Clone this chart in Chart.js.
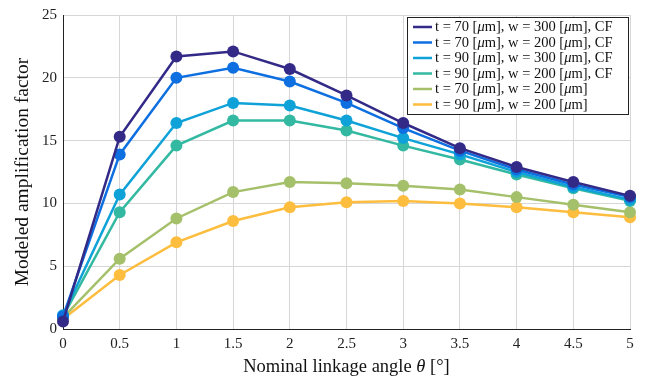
<!DOCTYPE html>
<html><head><meta charset="utf-8">
<script src="https://cdn.jsdelivr.net/npm/chart.js@4"></script>
<style>html,body{margin:0;padding:0;background:#fff;}#wrap{width:652px;height:383px;}</style>
</head><body><div id="wrap"><canvas id="c" width="652" height="383"></canvas></div>
<script>
const angles = [0, 0.5, 1, 1.5, 2, 2.5, 3, 3.5, 4, 4.5, 5];
const labels = [
  "t = 70 [μm], w = 300 [μm], CF",
  "t = 70 [μm], w = 200 [μm], CF",
  "t = 90 [μm], w = 300 [μm], CF",
  "t = 90 [μm], w = 200 [μm], CF",
  "t = 70 [μm], w = 200 [μm]",
  "t = 90 [μm], w = 200 [μm]"
];
const s1 = [0.6, 15.3, 21.7, 22.1, 20.7, 18.6, 16.4, 14.4, 12.9, 11.7, 10.6];
const s2 = [1.0, 13.9, 20.0, 20.8, 19.7, 18.0, 16.0, 14.2, 12.7, 11.5, 10.5];
const s3 = [1.1, 10.7, 16.4, 18.0, 17.8, 16.6, 15.2, 13.9, 12.5, 11.3, 10.3];
const s4 = [1.0, 9.3, 14.6, 16.6, 16.6, 15.8, 14.6, 13.5, 12.3, 11.2, 10.2];
const s5 = [0.9, 5.6, 8.8, 10.9, 11.7, 11.6, 11.4, 11.1, 10.5, 9.9, 9.3];
const s6 = [0.8, 4.3, 6.9, 8.6, 9.7, 10.1, 10.2, 10.0, 9.7, 9.3, 8.9];
const yTicks = [0, 5, 10, 15, 20, 25];
const xTitle = "Nominal linkage angle θ [°]";
const yTitle = "Modeled amplification factor";

const colors = ["#332a88", "#0d6fe0", "#0ea2d8", "#33b9a2", "#a5c06a", "#fdbd3e"];
const series = [s1, s2, s3, s4, s5, s6];
const FONT = "'Liberation Serif', serif";

const datasets = series.map((s, i) => ({
  label: labels[i],
  data: s.map((v, j) => ({x: angles[j], y: v})),
  borderColor: colors[i],
  backgroundColor: colors[i],
  borderWidth: 2.5,
  pointRadius: 6,
  pointHoverRadius: 6,
  pointBorderWidth: 0,
  tension: 0,
  clip: false
}));

function measureMixed(ctx, text, size) {
  let w = 0;
  for (const ch of text) {
    const ital = (ch === "μ" || ch === "θ");
    ctx.font = (ital ? "italic " : "") + size + "px " + FONT;
    w += ctx.measureText(ch).width;
  }
  return w;
}
function drawMixed(ctx, text, x, y, size) {
  let cx = x;
  for (const ch of text) {
    const ital = (ch === "μ" || ch === "θ");
    ctx.font = (ital ? "italic " : "") + size + "px " + FONT;
    ctx.fillText(ch, cx, y);
    cx += ctx.measureText(ch).width;
  }
  return cx - x;
}

const legendPlugin = {
  id: "boxLegend",
  afterDraw(chart) {
    const ctx = chart.ctx;
    const bx = 407, by = 17, bw = 221, bh = 97;
    ctx.save();
    ctx.fillStyle = "#fff";
    ctx.fillRect(bx, by, bw, bh);
    ctx.strokeStyle = "#222";
    ctx.lineWidth = 1;
    ctx.strokeRect(bx + 0.5, by + 0.5, bw, bh);
    chart.data.datasets.forEach((ds, i) => {
      const y = by + 10 + i * 15.5;
      ctx.strokeStyle = ds.borderColor;
      ctx.lineWidth = 2.5;
      ctx.beginPath();
      ctx.moveTo(bx + 6, y);
      ctx.lineTo(bx + 25, y);
      ctx.stroke();
      ctx.fillStyle = "#111";
      ctx.textBaseline = "middle";
      ctx.textAlign = "left";
      drawMixed(ctx, ds.label, bx + 28, y + 0.5, 14.5);
    });
    ctx.restore();
  }
};

const xTitlePlugin = {
  id: "xTitle",
  afterDraw(chart) {
    const ctx = chart.ctx;
    const area = chart.chartArea;
    ctx.save();
    ctx.fillStyle = "#111";
    ctx.textBaseline = "middle";
    ctx.textAlign = "left";
    const size = 18.5;
    const w = measureMixed(ctx, xTitle, size);
    const cx = (area.left + area.right) / 2 - w / 2;
    drawMixed(ctx, xTitle, cx, 367, size);
    ctx.restore();
  }
};

new Chart(document.getElementById("c"), {
  type: "line",
  data: { datasets },
  plugins: [legendPlugin, xTitlePlugin],
  options: {
    responsive: false,
    animation: false,
    events: [],
    layout: { padding: { left: 0, right: 22, top: 12, bottom: 0 } },
    plugins: { legend: { display: false }, tooltip: { enabled: false } },
    scales: {
      x: {
        type: "linear",
        min: 0, max: 5,
        afterBuildTicks(scale) { scale.ticks = angles.map(v => ({value: v})); },
        afterFit(scale) { scale.height = 54; },
        grid: { color: "#d6d6d6", lineWidth: 1, drawTicks: false },
        border: { color: "#222", width: 1 },
        ticks: { color: "#222", font: { family: FONT, size: 15 }, padding: 6, maxRotation: 0,
                 callback: v => String(v) }
      },
      y: {
        type: "linear",
        min: 0, max: 25,
        afterBuildTicks(scale) { scale.ticks = yTicks.map(v => ({value: v})); },
        afterFit(scale) { scale.width = 63; },
        grid: { color: "#d6d6d6", lineWidth: 1, drawTicks: false },
        border: { color: "#222", width: 1 },
        ticks: { color: "#222", font: { family: FONT, size: 15 }, padding: 6 },
        title: { display: true, text: yTitle, color: "#111", font: { family: FONT, size: 19.5 }, padding: { top: 11, bottom: 0 } }
      }
    }
  }
});
</script>
</body></html>
